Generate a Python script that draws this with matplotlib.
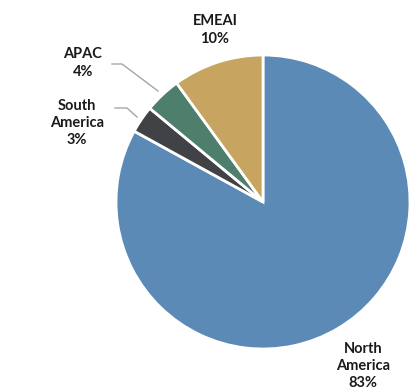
import matplotlib
matplotlib.use("Agg")
import matplotlib.pyplot as plt

categories = ["North America", "South America", "APAC", "EMEAI"]
values = [83, 3, 4, 10]
colors = ["#5B8AB6", "#404246", "#4E7F6C", "#C7A560"]
label_text = ["North\nAmerica\n83%", "South\nAmerica\n3%", "APAC\n4%", "EMEAI\n10%"]

W, H = 411, 390
fig = plt.figure(figsize=(W / 100, H / 100), dpi=100)
ax = fig.add_axes([0, 0, 1, 1])

cx, cy, r = 263, H - 202, 147
ax.pie(values, colors=colors, startangle=90, counterclock=False,
       center=(cx, cy), radius=r,
       wedgeprops=dict(edgecolor="white", linewidth=2))

font = dict(family=["Lato", "DejaVu Sans"], weight="bold", fontsize=10.5,
            color="#1a1a1a", ha="center", va="center", linespacing=1.3)

# label positions (pixel coords)
pos = {"North America": (363, 366), "South America": (77, 123),
       "APAC": (83, 63), "EMEAI": (215, 30)}
for cat, txt in zip(categories, label_text):
    x, y = pos[cat]
    ax.text(x, H - y, txt, **font)

# leader lines
lc = "#A6A6A6"
ax.plot([112, 122, 158], [H - 64, H - 64, H - 91], color=lc, lw=1)
ax.plot([115, 127, 137], [H - 108, H - 108, H - 117], color=lc, lw=1)

ax.set_xlim(0, W)
ax.set_ylim(0, H)
ax.set_aspect("equal")
ax.axis("off")
fig.savefig("out.png", dpi=100)
